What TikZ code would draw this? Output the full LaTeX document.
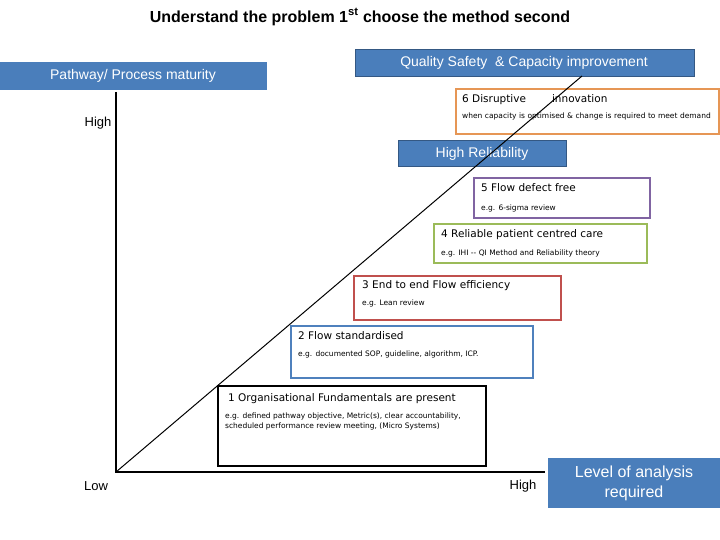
\documentclass[tikz,border=0pt]{standalone}
\usepackage{fontspec}
\setmainfont{Liberation Sans}
\newfontfamily\cf{DejaVu Sans}
\definecolor{hdr}{RGB}{74,126,187}
\definecolor{c6}{RGB}{230,150,85}
\definecolor{c5}{RGB}{128,100,162}
\definecolor{c4}{RGB}{155,187,89}
\definecolor{c3}{RGB}{192,80,77}
\definecolor{c2}{RGB}{79,129,189}
\begin{document}
\begin{tikzpicture}[x=1pt,y=-1pt,
 hb/.style={fill=hdr,draw=hdr!70!black,line width=0.4pt},
 ht/.style={text=white,font=\fontsize{14}{16}\selectfont},
 lvl/.style={fill=white,line width=1.3pt},
 big/.style={anchor=north west,font=\cf\fontsize{10.5}{12}\selectfont,inner sep=0pt},
 sm/.style={anchor=north west,font=\cf\fontsize{7.5}{9.5}\selectfont,inner sep=0pt,align=left},
 lab/.style={font=\fontsize{13}{15}\selectfont}]
\useasboundingbox (0,0) rectangle (720,540);
\node[font=\bfseries\fontsize{16}{18}\selectfont] (title) at (360,17) {Understand the problem 1\textsuperscript{st} choose the method second};
\fill[hdr] (0,62) rectangle (267,90);
\node[ht] (pwt) at (133,76) {Pathway/ Process maturity};
\draw[hb] (355,49) rectangle (694,76);
\node[ht] (qs) at (524,63) {Quality Safety \ \& Capacity improvement};
\draw[c6,lvl] (456,89) rectangle (719,134);
\node[big] (t6) at (462,94) {6 Disruptive\hspace{26pt}innovation};
\node[sm,text width=252pt] (s6) at (462,113) {when capacity is optimised \& change is required to meet demand};
\draw[hb] (398,140) rectangle (566,166);
\node[ht] (hr) at (482,154) {High Reliability};
\draw[c5,lvl] (474,178) rectangle (650,218);
\node[big] (t5) at (481,183) {5 Flow defect free};
\node[sm] (s5) at (481,205) {e.g. 6-sigma review};
\draw[c4,lvl] (434,224) rectangle (647,263);
\node[big] (t4) at (441,229) {4 Reliable patient centred care};
\node[sm] (s4) at (441,250) {e.g. IHI -- QI Method and Reliability theory};
\draw[c3,lvl] (354,276) rectangle (561,320);
\node[big] (t3) at (362,280) {3 End to end Flow efficiency};
\node[sm] (s3) at (362,300) {e.g. Lean review};
\draw[c2,lvl] (291,326) rectangle (533,378);
\node[big] (t2) at (298,331) {2 Flow standardised};
\node[sm] (s2) at (298,351) {e.g. documented SOP, guideline, algorithm, ICP.};
\draw[black,lvl] (218,386) rectangle (486,466);
\node[big] (t1) at (228,393) {1 Organisational Fundamentals are present};
\node[sm] (s1) at (225,413) {e.g. defined pathway objective, Metric(s), clear accountability,\\ scheduled performance review meeting, (Micro Systems)};
\fill[hdr] (548,458) rectangle (720,508);
\node[ht,align=center,font=\fontsize{16}{20}\selectfont] (la) at (634,483) {Level of analysis\\required};
\draw[line width=1.2pt] (116,92) coordinate (top) -- (116,472) coordinate (o) -- (545,472) coordinate (r);
\coordinate (e) at (582,76);
\draw[line width=1pt] (o) -- (e);
\node[lab] (hi) at (98,123) {High};
\node[lab] (lo) at (96,486) {Low};
\node[lab] (hb2) at (523,486) {High};
\end{tikzpicture}
\end{document}
